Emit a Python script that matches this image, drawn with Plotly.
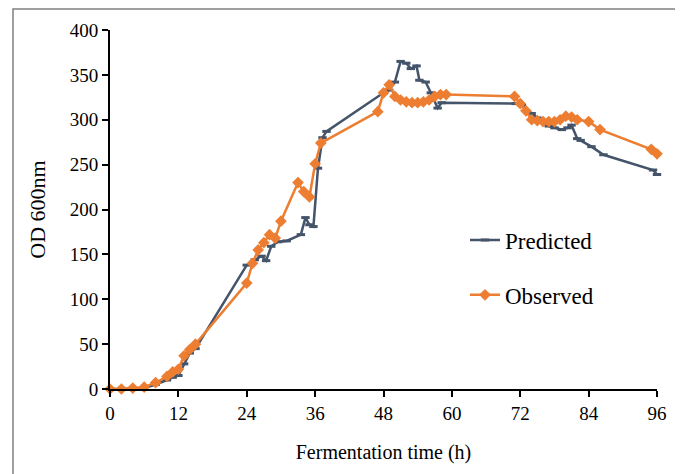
import plotly.graph_objects as go

# Data
t_pred = [0, 2, 4, 6, 8, 10, 11, 12, 13, 14, 15, 24, 25.4, 26.6, 27.4, 28.3, 29.5, 31,
          33.5, 34.3, 35, 35.7, 36.5, 37.3, 38, 48, 49, 50, 51, 52, 52.8, 53.8, 54.3, 55.4,
          56.3, 57.5, 58.2, 71.2, 72.3, 74, 75, 76, 77, 78, 79.3, 80.3, 81, 82, 82.6, 84.5,
          86.6, 95.3, 96]
v_pred = [0, 0, 0, 1, 5, 10, 13, 15, 28, 40, 45, 138, 144, 148, 143, 159, 164, 165,
          172, 191, 183, 181, 246, 280, 287, 330, 333, 342, 365, 363, 357, 360, 344, 342,
          330, 313, 319, 318, 316, 307, 302, 297, 293, 291, 289, 291, 294, 279, 277, 270,
          261, 244, 239]

t_obs = [0, 2, 4, 6, 8, 10, 11, 12, 13, 14, 15, 24, 25, 26, 27, 28, 29, 30, 33, 34, 35, 36,
         37, 47, 48, 49, 50, 51, 52, 53, 54, 55, 56, 57, 58, 59, 71, 72, 73, 74, 75, 76, 77,
         78, 79, 80, 81, 82, 84, 86, 95, 96]
v_obs = [0, 0, 1, 2, 7, 14, 19, 22, 37, 44, 50, 118, 140, 155, 163, 172, 168, 187, 230, 220,
         214, 251, 274, 309, 330, 339, 326, 322, 320, 319, 319, 320, 322, 326, 328, 328, 326,
         318, 310, 300, 299, 298, 298, 298, 300, 304, 303, 300, 298, 289, 267, 262]

x_ticks = [0, 12, 24, 36, 48, 60, 72, 84, 96]
y_ticks = [0, 50, 100, 150, 200, 250, 300, 350, 400]

BLUE = "#44546A"
ORANGE = "#ED7D31"
FONT = "'Liberation Serif', 'Times New Roman', 'DejaVu Serif', serif"

W, H = 675, 466
L, R, T, B = 102, 26, 22, 85
PW, PH = W - L - R, H - T - B

fig = go.Figure()
fig.add_trace(go.Scatter(
    x=t_pred, y=v_pred, name="Predicted", mode="lines+markers",
    line=dict(color=BLUE, width=2.5),
    marker=dict(symbol="line-ew", size=6, line=dict(color=BLUE, width=3)),
    cliponaxis=False, legendgroup="p"))
fig.add_trace(go.Scatter(
    x=t_obs, y=v_obs, name="Observed", mode="lines+markers",
    line=dict(color=ORANGE, width=2.5),
    marker=dict(symbol="diamond", size=9, color=ORANGE),
    cliponaxis=False, legendgroup="o"))

fig.update_layout(
    width=W, height=H,
    margin=dict(l=L, r=R, t=T, b=B),
    paper_bgcolor="white", plot_bgcolor="white",
    font=dict(family=FONT, size=19, color="black"),
    showlegend=True,
    legend=dict(x=(457 - L) / PW, y=0.475, xanchor="left", yanchor="top",
                font=dict(family=FONT, size=23, color="black"),
                tracegroupgap=22, traceorder="grouped",
                bgcolor="rgba(0,0,0,0)"),
    xaxis=dict(range=[0, 96], tickvals=x_ticks, ticktext=[str(v) for v in x_ticks],
               showgrid=False, zeroline=False, showline=True, linecolor="black", linewidth=2,
               ticks="outside", ticklen=6, tickwidth=2, tickcolor="black",
               tickfont=dict(family=FONT, size=19),
               title=dict(text="Fermentation time (h)", font=dict(family=FONT, size=20),
                          standoff=22)),
    yaxis=dict(range=[0, 400], tickvals=y_ticks, ticktext=[str(v) for v in y_ticks],
               showgrid=False, zeroline=False, showline=True, linecolor="black", linewidth=2,
               ticks="outside", ticklen=6, tickwidth=2, tickcolor="black",
               tickfont=dict(family=FONT, size=19),
               title=dict(text="OD 600nm", font=dict(family=FONT, size=22), standoff=18)),
    shapes=[dict(type="rect", xref="paper", yref="paper",
                 x0=(5 - L) / PW, x1=(672 - L) / PW,
                 y0=(H - T - B - (H + 10 - T)) / PH, y1=(PH + T - 1) / PH,
                 line=dict(color="#808080", width=1.5), fillcolor="rgba(0,0,0,0)",
                 layer="below")],
)

fig.write_html("out.html")
